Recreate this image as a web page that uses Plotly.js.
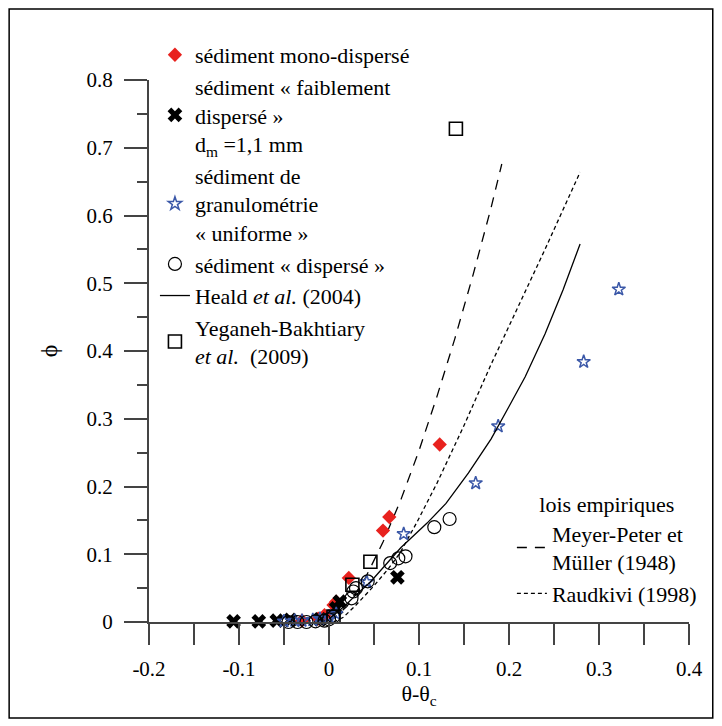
<!DOCTYPE html>
<html><head><meta charset="utf-8">
<script src="https://cdn.plot.ly/plotly-3.0.1.min.js"></script>
<style>html,body{margin:0;padding:0;background:#fff}#chart{width:722px;height:726px}</style>
</head><body><div id="chart"></div>
<script>
// ---- data ----
const monoX = [-0.030, -0.012, -0.005, 0.005, 0.008, 0.022, 0.060, 0.067, 0.123];
const monoY = [0.002, 0.005, 0.010, 0.025, 0.030, 0.065, 0.135, 0.155, 0.262];

const faibX = [-0.106, -0.078, -0.058, -0.043, -0.010, 0.008, 0.012, 0.076];
const faibY = [0.001, 0.001, 0.002, 0.003, 0.004, 0.020, 0.030, 0.066];

const unifX = [-0.050, -0.038, -0.030, -0.018, -0.010, 0.000, 0.008, 0.042, 0.083, 0.163, 0.188, 0.283, 0.322];
const unifY = [0.001, 0.002, 0.002, 0.003, 0.005, 0.008, 0.012, 0.059, 0.130, 0.205, 0.289, 0.384, 0.491];

const dispX = [-0.045, -0.035, -0.025, -0.015, -0.005, 0.000, 0.005, 0.025, 0.027, 0.030, 0.043, 0.068, 0.077, 0.085, 0.117, 0.134];
const dispY = [0.000, 0.000, 0.000, 0.001, 0.002, 0.004, 0.008, 0.035, 0.045, 0.050, 0.060, 0.087, 0.094, 0.097, 0.140, 0.152];

const healdX = [0.000, 0.010, 0.020, 0.030, 0.046, 0.060, 0.080, 0.109, 0.130, 0.155, 0.180, 0.200, 0.218, 0.240, 0.260, 0.279];
const healdY = [0.005, 0.015, 0.027, 0.040, 0.059, 0.080, 0.110, 0.146, 0.175, 0.220, 0.270, 0.318, 0.362, 0.425, 0.490, 0.558];

const yegX = [0.005, 0.026, 0.046, 0.141];
const yegY = [0.008, 0.055, 0.089, 0.728];

const mpmX = [0.000, 0.020, 0.040, 0.060, 0.080, 0.100, 0.120, 0.140, 0.160, 0.180, 0.192];
const mpmY = [0.000, 0.023, 0.064, 0.118, 0.181, 0.253, 0.333, 0.419, 0.512, 0.611, 0.676];

const raudX = [0.005, 0.016, 0.030, 0.049, 0.065, 0.079, 0.098, 0.120, 0.150, 0.180, 0.210, 0.240, 0.279];
const raudY = [0.000, 0.007, 0.025, 0.052, 0.077, 0.102, 0.148, 0.205, 0.290, 0.380, 0.465, 0.550, 0.664];

const xTickVals = [-0.2, -0.1, 0, 0.1, 0.2, 0.3, 0.4];
const xTickText = ['-0.2', '-0.1', '0', '0.1', '0.2', '0.3', '0.4'];
const yTickVals = [0, 0.1, 0.2, 0.3, 0.4, 0.5, 0.6, 0.7, 0.8];
const yTickText = ['0', '0.1', '0.2', '0.3', '0.4', '0.5', '0.6', '0.7', '0.8'];

const names = {
  mono: 'sédiment mono-dispersé',
  faib: 'sédiment « faiblement<br>dispersé »<br>d<sub>m</sub> =1,1 mm',
  unif: 'sédiment de<br>granulométrie<br>« uniforme »',
  disp: 'sédiment « dispersé »',
  heald: 'Heald <i>et al.</i> (2004)',
  yeg: 'Yeganeh-Bakhtiary<br><i>et al.</i>  (2009)',
  mpm: 'Meyer-Peter et<br>Müller (1948)',
  raud: 'Raudkivi (1998)'
};

const SERIF = 'Liberation Serif';
const AX = '#444';

const traces = [
  {x: mpmX, y: mpmY, name: names.mpm, mode: 'lines', legend: 'legend2',
   line: {color: '#000', width: 1.3, dash: '10px,8px'}},
  {x: raudX, y: raudY, name: names.raud, mode: 'lines', legend: 'legend2',
   line: {color: '#000', width: 1.3, dash: '4px,3px'}},
  {x: monoX, y: monoY, name: names.mono, mode: 'markers', cliponaxis: false,
   marker: {symbol: 'diamond', size: 11, color: '#e8221e', line: {width: 0}}},
  {x: faibX, y: faibY, name: names.faib, mode: 'markers', cliponaxis: false,
   marker: {symbol: 'x', size: 13, color: '#000', line: {width: 0}}},
  {x: unifX, y: unifY, name: names.unif, mode: 'markers', cliponaxis: false,
   marker: {symbol: 'star-open', size: 10, color: '#3b58a8', line: {width: 1.5, color: '#3b58a8'}}},
  {x: dispX, y: dispY, name: names.disp, mode: 'markers', cliponaxis: false,
   marker: {symbol: 'circle-open', size: 13, color: '#000', line: {width: 1.2, color: '#000'}}},
  {x: healdX, y: healdY, name: names.heald, mode: 'lines',
   line: {color: '#000', width: 1.3}},
  {x: yegX, y: yegY, name: names.yeg, mode: 'markers', cliponaxis: false,
   marker: {symbol: 'square-open', size: 13, color: '#000', line: {width: 1.6, color: '#000'}}}
];

const layout = {
  width: 722, height: 726,
  margin: {l: 149, r: 33, t: 80, b: 104},
  paper_bgcolor: '#fff', plot_bgcolor: '#fff',
  font: {family: SERIF, size: 21, color: '#000'},
  showlegend: true,
  xaxis: {
    range: [-0.2, 0.4], showgrid: false, zeroline: false,
    showline: true, linecolor: AX, linewidth: 2,
    tickmode: 'array', tickvals: xTickVals, ticktext: xTickText,
    ticks: 'outside', ticklen: 21, tickwidth: 2, tickcolor: AX,
    ticklabelstandoff: 6,
    minor: {tickmode: 'linear', tick0: 0, dtick: 0.05, ticks: 'outside', ticklen: 21, tickwidth: 2, tickcolor: AX},
    tickfont: {family: SERIF, size: 21, color: '#000'},
    title: {text: 'θ-θ<sub>c</sub>', font: {family: SERIF, size: 22, color: '#000'}, standoff: 4}
  },
  yaxis: {
    range: [0, 0.8], showgrid: false, zeroline: false,
    showline: true, linecolor: AX, linewidth: 2,
    tickmode: 'array', tickvals: yTickVals, ticktext: yTickText,
    ticks: 'outside', ticklen: 23, tickwidth: 2, tickcolor: AX,
    ticklabelstandoff: 7,
    minor: {tickmode: 'linear', tick0: 0, dtick: 0.05, ticks: 'outside', ticklen: 10, tickwidth: 2, tickcolor: AX},
    tickfont: {family: SERIF, size: 21, color: '#000'},
    title: {text: 'ϕ', font: {family: SERIF, size: 24, color: '#000'}, standoff: 22}
  },
  legend: {
    x: 0.011, y: 1.085, xanchor: 'left', yanchor: 'top',
    bgcolor: 'rgba(0,0,0,0)', borderwidth: 0,
    font: {family: SERIF, size: 22, color: '#000'},
    valign: 'middle', tracegroupgap: 0
  },
  legend2: {
    x: 0.672, y: 0.255, xanchor: 'left', yanchor: 'top',
    bgcolor: 'rgba(0,0,0,0)', borderwidth: 0,
    font: {family: SERIF, size: 22, color: '#000'},
    title: {text: 'lois empiriques', side: 'top center', font: {family: SERIF, size: 22, color: '#000'}},
    valign: 'middle'
  },
  shapes: [
    {type: 'line', xref: 'paper', yref: 'paper', x0: 0, x1: 0, y0: 0, y1: -0.039,
     line: {color: AX, width: 2}},
    {type: 'rect', xref: 'paper', yref: 'paper', x0: -0.259, x1: 1.044, y0: -0.177, y1: 1.131,
     line: {color: '#000', width: 1.5}, fillcolor: 'rgba(0,0,0,0)'}
  ]
};

Plotly.newPlot('chart', traces, layout, {displayModeBar: false, staticPlot: true});
</script>
</body></html>
